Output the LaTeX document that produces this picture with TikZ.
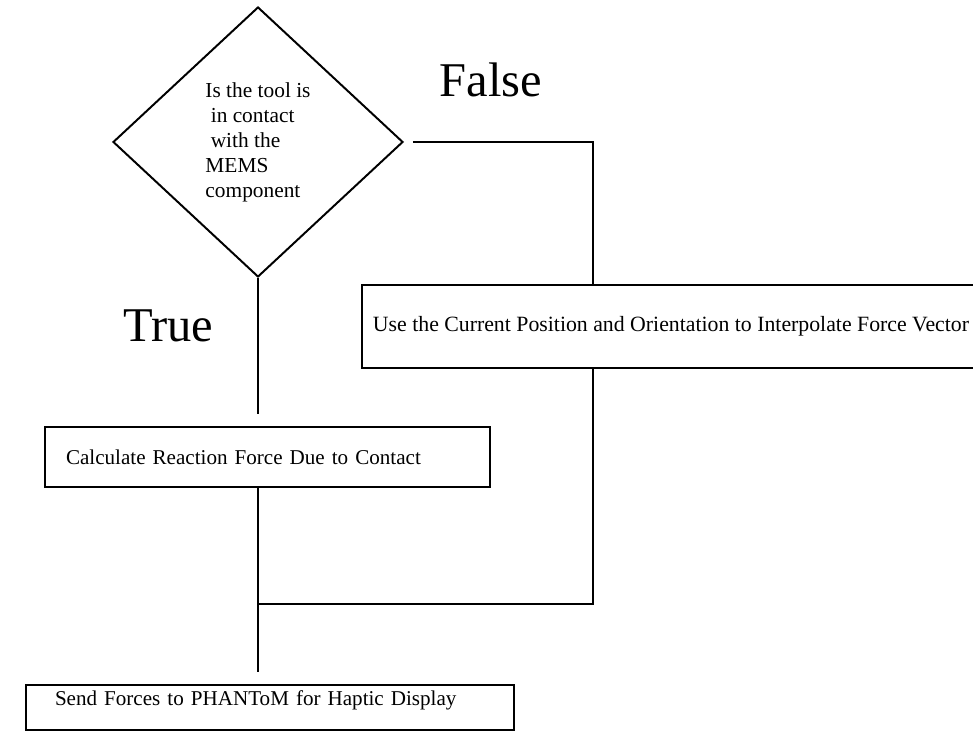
\documentclass[tikz,border=0pt]{standalone}
\usepackage{fontspec}
\setmainfont{Liberation Serif}
\usetikzlibrary{shapes}

\begin{document}
\begin{tikzpicture}[stepbox/.style={shape=rectangle,draw=black,line width=1.7pt,inner ysep=0pt,font=\fontsize{15}{17.8}\selectfont},
  bigword/.style={font=\fontsize{34.5}{40}\selectfont}]
\useasboundingbox (0,0) rectangle (24.325,18.275);
\node[shape=diamond,draw=black,align=left,line width=1.4pt,minimum width=7.25cm,minimum height=6.75cm,inner sep=0pt,font=\fontsize{15.2}{17.8}\selectfont] (0) at (6.45,14.725) {Is the tool is\\\ in contact\\\ with the\\MEMS\\component};
\node[stepbox,minimum width=15.45cm,minimum height=2.075cm,font=\fontsize{15.5}{18}\selectfont] (1) at (16.775,10.1125) {Use the Current Position and Orientation to Interpolate Force Vector};
\node[stepbox,text width=10.075cm,inner xsep=0.525cm,align=left,minimum height=1.5cm] (2) at (6.6875,6.85) {Calculate Reaction Force Due to Contact};
\node[stepbox,text width=10.75cm,inner xsep=0.725cm,align=left,minimum height=1.125cm,text height=0.38cm,text depth=0.5cm] (3) at (6.75,0.5875) {Send Forces to PHANToM for Haptic Display};
\node[bigword] (4) at (4.2,10.125) {True};
\node[bigword] (5) at (12.275,16.275) {False};

\coordinate (6) at (14.825,14.725);
\coordinate (7) at (6.45,3.175);

\draw[-,draw=black,line width=1.7pt,shorten <=0.225cm] (0.east) -- (6) -- (6 |- 1.north);
\draw[-,draw=black,line width=1.7pt] (6 |- 1.south) -- (6 |- 7) -- (7);
\draw[-,draw=black,line width=1.7pt,shorten >=0.3cm] (0.south) -- (0.south |- 2.north);
\draw[-,draw=black,line width=1.7pt,shorten >=0.3cm] (0.south |- 2.south) -- (0.south |- 3.north);
\end{tikzpicture}
\end{document}
